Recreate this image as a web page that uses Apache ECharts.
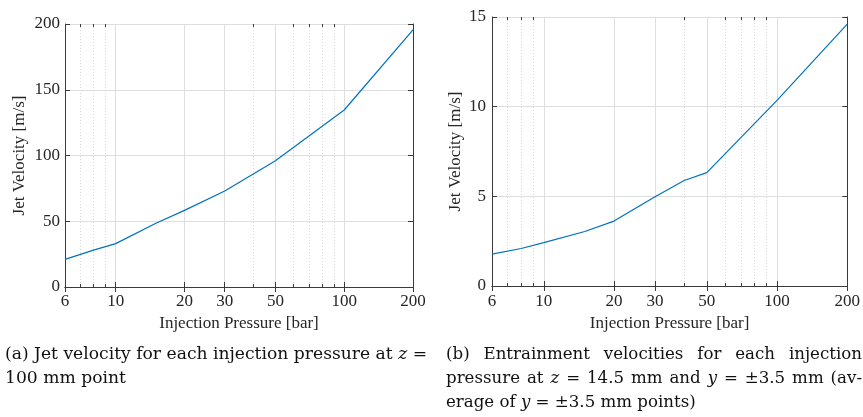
<!DOCTYPE html>
<html><head><meta charset="utf-8">
<script src="https://cdn.jsdelivr.net/npm/echarts@6/dist/echarts.min.js"></script>
<style>html,body{margin:0;padding:0;background:#fff}#c{width:863px;height:417px}</style>
</head><body><div id="c"></div>
<script>
// ---- data ----
const pressure = [6, 8, 10, 15, 20, 30, 40, 50, 100, 200];
const jetVelocity = [21, 28, 33, 48.5, 58.3, 73, 86, 96, 134.6, 195.5];
const entrainVelocity = [1.78, 2.09, 2.42, 3.04, 3.62, 4.98, 5.88, 6.32, 10.35, 14.6];
const xMajorTicks = [6, 10, 20, 30, 50, 100, 200];
const xMinorTicks = [7, 8, 9, 40, 60, 70, 80, 90];
const xRange = [6, 200];
const yRangeA = [0, 200], yStepA = 50;
const yRangeB = [0, 15], yStepB = 5;
const xName = 'Injection Pressure [bar]';
const yName = 'Jet Velocity [m/s]';

const FONT = '"Liberation Serif", serif';
const CAPFONT = '"DejaVu Serif", serif';
const TXT = '#262626';
const AXC = '#3a3a3a';

function xAxes(g, nameGap, labelMargin) {
  return [
    { type: 'log', logBase: 10, gridIndex: g, min: xRange[0], max: xRange[1], position: 'bottom',
      name: xName, nameLocation: 'middle', nameGap: nameGap,
      nameTextStyle: { fontFamily: FONT, fontSize: 17, color: TXT },
      axisLine: { show: true, lineStyle: { color: AXC, width: 1 } },
      axisTick: { show: true, inside: true, length: 5, customValues: xMajorTicks, lineStyle: { color: AXC } },
      axisLabel: { show: true, customValues: xMajorTicks, margin: labelMargin, fontFamily: FONT, fontSize: 17, color: TXT,
        formatter: v => String(Math.round(v)) },
      splitLine: { show: true, lineStyle: { color: '#dedede', width: 1 } },
      minorTick: { show: false }, minorSplitLine: { show: false } },
    { type: 'log', logBase: 10, gridIndex: g, min: xRange[0], max: xRange[1], position: 'top',
      axisLine: { show: true, lineStyle: { color: AXC, width: 1 } },
      axisTick: { show: true, inside: true, length: 5, customValues: xMajorTicks, lineStyle: { color: AXC } },
      axisLabel: { show: false }, splitLine: { show: false } },
    { type: 'log', logBase: 10, gridIndex: g, min: xRange[0], max: xRange[1], position: 'bottom',
      axisLine: { show: false },
      axisTick: { show: true, inside: true, length: 3, customValues: xMinorTicks, lineStyle: { color: AXC } },
      axisLabel: { show: false },
      splitLine: { show: true, lineStyle: { color: '#d6d6d6', width: 1, type: [1, 2] } } },
    { type: 'log', logBase: 10, gridIndex: g, min: xRange[0], max: xRange[1], position: 'top',
      axisLine: { show: false },
      axisTick: { show: true, inside: true, length: 3, customValues: xMinorTicks, lineStyle: { color: AXC } },
      axisLabel: { show: false }, splitLine: { show: false } }
  ];
}
function yAxes(g, range, step, nameGap, labelMargin) {
  return [
    { type: 'value', gridIndex: g, min: range[0], max: range[1], interval: step, position: 'left',
      name: yName, nameLocation: 'middle', nameGap: nameGap,
      nameTextStyle: { fontFamily: FONT, fontSize: 17, color: TXT },
      axisLine: { show: true, lineStyle: { color: AXC, width: 1 } },
      axisTick: { show: true, inside: true, length: 5, lineStyle: { color: AXC } },
      axisLabel: { margin: labelMargin, fontFamily: FONT, fontSize: 17, color: TXT },
      splitLine: { show: true, lineStyle: { color: '#dedede', width: 1 } } },
    { type: 'value', gridIndex: g, min: range[0], max: range[1], interval: step, position: 'right',
      axisLine: { show: true, lineStyle: { color: AXC, width: 1 } },
      axisTick: { show: true, inside: true, length: 5, lineStyle: { color: AXC } },
      axisLabel: { show: false }, splitLine: { show: false } }
  ];
}

// ---- caption layout helper (text only) ----
const mctx = document.createElement('canvas').getContext('2d');
function fontStr(it, size) { return (it ? 'italic ' : '') + size + 'px ' + CAPFONT; }
function measure(words, size) {
  let w = 0;
  words.forEach(x => { mctx.font = fontStr(x.it, size); w += mctx.measureText(x.t).width; });
  mctx.font = fontStr(false, size);
  return w + mctx.measureText(' ').width * (words.length - 1);
}
function captionLine(words, x, y, size, opts) {
  const sx = opts.scaleX || 1;
  const widths = words.map(w => { mctx.font = fontStr(w.it, size); return mctx.measureText(w.t).width * sx; });
  mctx.font = fontStr(false, size);
  let gap = mctx.measureText(' ').width * sx;
  const total = widths.reduce((a, b) => a + b, 0);
  if (opts.width) gap = (opts.width - total) / (words.length - 1);
  const els = [];
  let cx = x;
  words.forEach((w, i) => {
    els.push({ type: 'text', x: cx, y: y, scaleX: sx, silent: true,
      style: { text: w.t, font: fontStr(w.it, size), fill: '#111', textVerticalAlign: 'middle', textAlign: 'left' } });
    cx += widths[i] + gap;
  });
  return els;
}
function W(s) { return s.split(' ').map(t => ({ t })); }

const CAP = 17;
const capA1 = [...W('(a) Jet velocity for each injection pressure at'), { t: 'z', it: true }, { t: '=' }];
const capA2 = W('100 mm point');
const capB1 = W('(b) Entrainment velocities for each injection');
const capB2 = [...W('pressure at'), { t: 'z', it: true }, ...W('= 14.5 mm and'), { t: 'y', it: true }, ...W('= ±3.5 mm (av-')];
const capB3 = [...W('erage of'), { t: 'y', it: true }, ...W('= ±3.5 mm points)')];
const sA = 0.93 * Math.min(1, 422 / measure(capA1, CAP)) / 0.93;
const sB = 398 / measure(capB2, CAP);

const graphics = [].concat(
  captionLine(capA1, 5, 355, CAP, { scaleX: 422 / measure(capA1, CAP), width: 422 }),
  captionLine(capA2, 5, 379, CAP, { scaleX: 422 / measure(capA1, CAP) }),
  captionLine(capB1, 446, 355, CAP, { scaleX: sB, width: 416 }),
  captionLine(capB2, 446, 379, CAP, { scaleX: sB, width: 416 }),
  captionLine(capB3, 446, 403, CAP, { scaleX: sB })
);

const chart = echarts.init(document.getElementById('c'), null, { renderer: 'canvas' });
chart.setOption({
  animation: false,
  backgroundColor: '#fff',
  grid: [
    { left: 65, top: 24, width: 348, height: 263, containLabel: false },
    { left: 492, top: 17, width: 356, height: 269, containLabel: false }
  ],
  xAxis: [...xAxes(0, 27, 6), ...xAxes(1, 29, 7)],
  yAxis: [...yAxes(0, yRangeA, yStepA, 37, 5), ...yAxes(1, yRangeB, yStepB, 28, 6)],
  series: [
    { type: 'line', xAxisIndex: 0, yAxisIndex: 0, showSymbol: false, symbol: 'none',
      lineStyle: { color: '#0072BD', width: 1.2 }, data: pressure.map((p, i) => [p, jetVelocity[i]]) },
    { type: 'line', xAxisIndex: 4, yAxisIndex: 2, showSymbol: false, symbol: 'none',
      lineStyle: { color: '#0072BD', width: 1.2 }, data: pressure.map((p, i) => [p, entrainVelocity[i]]) }
  ],
  graphic: graphics
});
</script></body></html>
